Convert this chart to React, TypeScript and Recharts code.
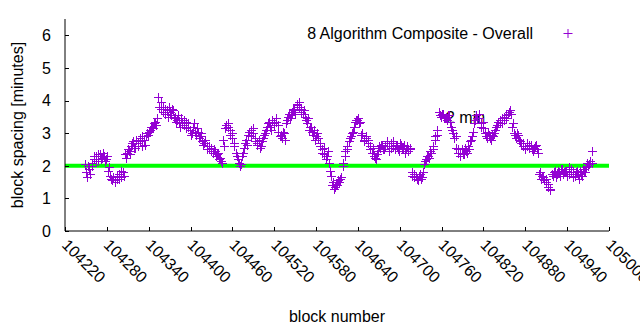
import React from 'react';
import { ScatterChart, Scatter, XAxis, YAxis, ReferenceLine } from 'recharts';

const FONT = "'Liberation Sans', Arial, Helvetica, sans-serif";

const seriesName = '8 Algorithm Composite - Overall';
const thresholdLabel = '2 min';
const thresholdValue = 2;
const xAxisTitle = 'block number';
const yAxisTitle = 'block spacing [minutes]';

const startBlock = 104249;
const blockStep = 3;
// readings at blocks startBlock + 3i
const spacingValues = [
  2.05, 1.65, 1.9, 2.0,
  2.2, 2.3, 2.15, 2.35, 2.25, 2.3, 2.2,
  1.85, 1.7, 1.55, 1.5, 1.6, 1.75, 1.65, 1.8,
  2.35, 2.4,
  2.45, 2.6, 2.75, 2.55, 2.7, 2.85, 2.6, 2.8, 2.9,
  2.95, 3.1, 3.2, 3.3, 3.25,
  4.1, 3.75, 3.8, 3.6, 3.7, 3.8, 3.55, 3.7,
  3.5, 3.4, 3.3, 3.45, 3.25, 3.35, 3.2,
  3.1, 3.0, 3.3, 2.95, 3.05, 2.9,
  2.75, 2.7, 2.6, 2.5, 2.55, 2.4, 2.45, 2.35,
  2.2, 2.15,
  2.8, 3.15, 3.3,
  3.1, 2.85, 2.6, 2.4, 2.2, 2.0,
  2.3, 2.55, 2.8, 2.95, 3.1, 3.0,
  2.75, 2.65, 2.8, 2.6, 2.85,
  3.0, 3.2, 3.35, 3.1, 3.3, 3.45, 3.25,
  2.9, 2.85, 3.0,
  3.3, 3.5, 3.45, 3.65, 3.7, 3.9, 3.8,
  3.75, 3.6, 3.5, 3.3, 3.1, 3.2, 2.95, 2.8, 3.0, 2.7,
  2.5, 2.35, 2.2, 2.45,
  1.85, 1.4, 1.3, 1.45,
  1.55, 1.6, 2.0,
  2.3, 2.5, 2.75, 2.9, 3.05,
  3.35, 3.4, 3.3,
  2.95, 2.8, 2.85, 2.7,
  2.6, 2.4, 2.3, 2.2, 2.45,
  2.55, 2.65, 2.5, 2.7, 2.6, 2.55, 2.75, 2.5, 2.6, 2.45, 2.65, 2.55, 2.4, 2.6, 2.5,
  1.8, 1.65, 1.7, 1.55, 1.75, 1.65,
  2.05, 2.2, 2.3, 2.45, 2.5,
  2.8, 2.95,
  3.65, 3.5, 3.6, 3.45, 3.4, 3.55,
  3.2, 3.0, 2.9,
  2.4, 2.3, 2.5, 2.35, 2.45,
  2.6, 2.75, 2.9,
  3.3, 3.55, 3.45, 3.2, 3.35,
  3.0, 2.85, 2.95, 2.8, 2.9,
  3.1, 3.25, 3.4, 3.3, 3.5, 3.45, 3.6, 3.7,
  3.2, 3.0, 2.85, 2.95, 2.75,
  2.6, 2.5, 2.7, 2.55, 2.65, 2.45, 2.6, 2.5,
  1.75, 1.6, 1.65, 1.5, 1.35, 1.25,
  1.75, 1.8, 1.65, 1.85, 1.7, 1.9, 1.8, 1.85, 1.75, 1.9, 1.8, 1.7, 1.85, 1.6, 1.75, 1.9, 1.8,
  2.1, 2.05, 2.45,
];

// readings at blocks startBlock + 1 + 3i
const spacingValuesB = [
  1.8, 2.0, 1.75, 2.1,
  2.3, 2.15, 2.35, 2.2, 2.4, 2.15, 2.3,
  1.95, 1.6, 1.65, 1.55, 1.7, 1.6, 1.85, 1.7,
  2.25, 2.5,
  2.35, 2.7, 2.55, 2.8, 2.6, 2.75, 2.9, 2.65, 3.0,
  3.05, 3.2, 3.15, 3.35, 3.45,
  3.8, 3.95, 3.65, 3.75, 3.5, 3.65, 3.75, 3.45,
  3.35, 3.55, 3.2, 3.3, 3.4, 3.15, 3.3,
  2.95, 3.2, 3.05, 3.15, 2.85, 3.0,
  2.65, 2.8, 2.5, 2.6, 2.45, 2.5, 2.3, 2.4,
  2.25, 2.1,
  2.6, 3.25, 3.2,
  2.95, 3.0, 2.7, 2.3, 2.1, 2.05,
  2.4, 2.7, 2.65, 3.05, 2.9, 3.15,
  2.85, 2.7, 2.55, 2.75, 2.95,
  3.1, 3.3, 3.2, 3.4, 3.25, 3.35, 3.05,
  2.95, 3.05, 2.8,
  3.4, 3.6, 3.55, 3.75, 3.6, 3.85, 3.95,
  3.65, 3.7, 3.4, 3.45, 3.2, 3.05, 3.1, 2.9, 2.85, 2.6,
  2.4, 2.55, 2.3, 2.1,
  1.7, 1.5, 1.35, 1.4,
  1.5, 1.65, 2.1,
  2.45, 2.6, 2.85, 3.0, 3.2,
  3.4, 3.45, 3.35,
  3.0, 2.75, 2.9, 2.8,
  2.5, 2.55, 2.25, 2.35, 2.6,
  2.65, 2.5, 2.6, 2.75, 2.45, 2.7, 2.6, 2.65, 2.5, 2.7, 2.55, 2.65, 2.5, 2.45, 2.55,
  1.7, 1.75, 1.6, 1.7, 1.6, 1.8,
  2.15, 2.3, 2.25, 2.4, 2.6,
  2.9, 3.1,
  3.55, 3.6, 3.45, 3.5, 3.55, 3.35,
  3.1, 2.85, 2.55,
  2.5, 2.4, 2.35, 2.55, 2.4,
  2.5, 2.8, 3.05,
  3.4, 3.45, 3.6, 3.3, 3.15,
  2.9, 3.05, 2.85, 2.95, 3.0,
  3.2, 3.35, 3.3, 3.45, 3.4, 3.55, 3.65, 3.6,
  3.3, 2.95, 3.0, 2.8, 2.7,
  2.7, 2.55, 2.6, 2.65, 2.5, 2.55, 2.65, 2.4,
  1.8, 1.7, 1.55, 1.6, 1.45, 1.3,
  1.7, 1.85, 1.75, 1.8, 1.9, 1.75, 1.85, 1.7, 1.95, 1.8, 1.65, 1.8, 1.75, 1.85, 1.7, 1.8, 1.95,
  2.0, 2.15, 2.1,
];

const xTicks = [104220, 104280, 104340, 104400, 104460, 104520, 104580, 104640, 104700, 104760, 104820, 104880, 104940, 105000];
const yTicks = [0, 1, 2, 3, 4, 5, 6];
const xDomain = [104220, 105000];
const yDomain = [0, 6.5];

const data = [
  ...spacingValues.map((v, i) => ({ block: startBlock + i * blockStep, spacing: v })),
  ...spacingValuesB.map((v, i) => ({ block: startBlock + 1 + i * blockStep, spacing: v })),
].sort((a, b) => a.block - b.block);

const PLOT_LEFT = 65;
const PLOT_RIGHT = 609;
const PLOT_TOP = 19;
const PLOT_BOTTOM = 231;
const PURPLE = '#9400d3';

const XTick = (props: any) => {
  const { x, payload } = props;
  const ax = x - 4;
  const ay = 246;
  const lx = Math.round(x) + 0.5;
  return (
    <g>
      <line x1={lx} x2={lx} y1={PLOT_BOTTOM} y2={PLOT_BOTTOM - 4} stroke="#000" />
      <text x={ax} y={ay} transform={`rotate(45 ${ax} ${ay})`} textAnchor="start" fontSize={16} fontFamily={FONT} fill="#000">
        {payload.value}
      </text>
    </g>
  );
};

const YTickLeft = (props: any) => {
  const { y, payload } = props;
  const ly = Math.round(y) + 0.5;
  return (
    <g>
      <line x1={PLOT_LEFT} x2={PLOT_LEFT + 4} y1={ly} y2={ly} stroke="#000" />
      <text x={51} y={y} dy="0.36em" textAnchor="end" fontSize={16} fontFamily={FONT} fill="#000">
        {payload.value}
      </text>
    </g>
  );
};

const YTickRight = (props: any) => {
  const { y } = props;
  const ly = Math.round(y) + 0.5;
  return <line x1={PLOT_RIGHT} x2={PLOT_RIGHT - 4} y1={ly} y2={ly} stroke="#000" />;
};

const PlusShape = (props: any) => {
  const { cx, cy } = props;
  if (cx == null || cy == null) return null;
  const x = Math.round(cx) + 0.5;
  const y = Math.round(cy) + 0.5;
  return (
    <path d={`M${x - 4.5},${y}H${x + 4.5}M${x},${y - 4.5}V${y + 4.5}`} stroke={PURPLE} strokeWidth={1} fill="none" />
  );
};

export default function App() {
  return (
    <div style={{ position: 'absolute', left: 0, top: 0, width: 640, height: 330, background: '#fff', fontFamily: FONT }}>
      <svg width={640} height={330} style={{ position: 'absolute', left: 0, top: 0 }}>
        <text x={446} y={123} fontSize={16} fontFamily={FONT} fill="#000">{thresholdLabel}</text>
      </svg>
      <div style={{ position: 'absolute', left: 0, top: 0 }}>
        <ScatterChart width={640} height={330} margin={{ top: PLOT_TOP, right: 640 - PLOT_RIGHT, bottom: 0, left: 0 }}>
          <XAxis
            xAxisId="bottom"
            dataKey="block"
            type="number"
            domain={xDomain}
            ticks={xTicks}
            interval={0}
            height={330 - PLOT_BOTTOM}
            tick={<XTick />}
            tickLine={false}
            axisLine={{ stroke: '#000' }}
            allowDataOverflow
            label={{ value: xAxisTitle, position: 'insideBottom', offset: 8, fontSize: 16, fill: '#000', fontFamily: FONT }}
          />
          <XAxis xAxisId="top" orientation="top" type="number" domain={xDomain} height={0} tick={false} tickLine={false} axisLine={{ stroke: '#000' }} />
          <YAxis
            yAxisId="left"
            type="number"
            domain={yDomain}
            ticks={yTicks}
            interval={0}
            width={PLOT_LEFT}
            tick={<YTickLeft />}
            tickLine={false}
            axisLine={{ stroke: '#000' }}
            allowDataOverflow
            label={{ value: yAxisTitle, angle: -90, position: 'insideLeft', offset: 17, style: { textAnchor: 'middle' }, fontSize: 16, fill: '#000', fontFamily: FONT }}
          />
          <YAxis yAxisId="right" orientation="right" type="number" domain={yDomain} ticks={yTicks} interval={0} width={0} tick={<YTickRight />} tickLine={false} axisLine={{ stroke: '#000' }} />
          <ReferenceLine xAxisId="bottom" yAxisId="left" y={thresholdValue} stroke="#00ff00" strokeWidth={4} />
          <Scatter xAxisId="bottom" yAxisId="left" name={seriesName} data={data} dataKey="spacing" fill={PURPLE} shape={<PlusShape />} isAnimationActive={false} />
        </ScatterChart>
      </div>
      <svg width={640} height={50} style={{ position: 'absolute', left: 0, top: 0, pointerEvents: 'none' }}>
        <text x={533} y={39} textAnchor="end" fontSize={16} fontFamily={FONT} fill="#000">{seriesName}</text>
        <path d="M563.5,33.5H572.5M568,29V38" stroke={PURPLE} strokeWidth={1} fill="none" />
      </svg>
    </div>
  );
}
